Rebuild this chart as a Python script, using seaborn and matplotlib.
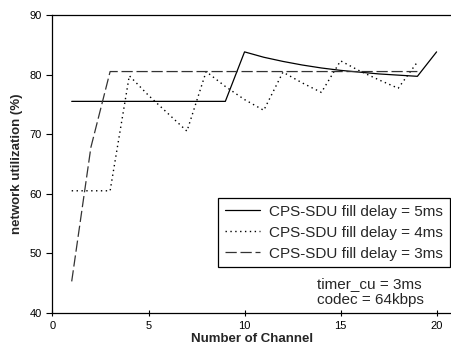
import pandas as pd
import seaborn as sns
import matplotlib.pyplot as plt

# Data
channels = list(range(1, 21))
delay_5ms = [75.5, 75.5, 75.5, 75.5, 75.5, 75.5, 75.5, 75.5, 75.5, 83.8,
             82.9, 82.2, 81.6, 81.1, 80.7, 80.4, 80.1, 79.9, 79.7, 83.8]
delay_4ms = [60.5, 60.5, 60.5, 79.8, 76.5, 73.5, 70.5, 80.5, 78.0, 75.8,
             74.0, 80.4, 78.6, 77.0, 82.3, 80.6, 79.1, 77.7, 82.1]
delay_3ms = [45.3, 67.8, 80.5, 80.5, 80.5, 80.5, 80.5, 80.5, 80.5, 80.5,
             80.5, 80.5, 80.5, 80.5, 80.5, 80.5, 80.5, 80.5, 80.5]
labels = ['CPS-SDU fill delay = 5ms', 'CPS-SDU fill delay = 4ms', 'CPS-SDU fill delay = 3ms']

sns.set_style('ticks')
plt.rcParams['font.family'] = ['Liberation Sans', 'DejaVu Sans']

fig = plt.figure(figsize=(4.51, 3.47), dpi=100)
ax = fig.add_axes([0.1164, 0.098, 0.8836, 0.859])

sns.lineplot(x=channels, y=delay_5ms, ax=ax, color='black', linewidth=0.9,
             linestyle='-', label=labels[0])
sns.lineplot(x=channels[:len(delay_4ms)], y=delay_4ms, ax=ax, color='black',
             linewidth=1.0, linestyle=(0, (1, 2.5)), label=labels[1])
sns.lineplot(x=channels[:len(delay_3ms)], y=delay_3ms, ax=ax, color='#333333',
             linewidth=0.9, linestyle=(0, (9, 3)), label=labels[2])

ax.set_xlim(0, 20.75)
ax.set_ylim(40, 90)
ax.set_xticks([0, 5, 10, 15, 20])
ax.set_yticks([40, 50, 60, 70, 80, 90])
ax.tick_params(labelsize=8, length=4, width=0.8, colors='black')
ax.tick_params(axis='x', direction='inout', length=5)
ax.spines['right'].set_visible(False)
for s in ['left', 'bottom', 'top']:
    ax.spines[s].set_linewidth(0.9)
    ax.spines[s].set_color('black')

ax.set_xlabel('Number of Channel', fontsize=9.5, fontweight='bold', labelpad=1)
ax.set_ylabel('network utilization (%)', fontsize=9.5, fontweight='bold', labelpad=5)

leg = ax.legend(loc='upper left', bbox_to_anchor=(0.415, 0.386), fontsize=11,
                frameon=True, fancybox=False, edgecolor='black', framealpha=1,
                handlelength=2.3, handletextpad=0.6, borderpad=0.45,
                labelspacing=0.45, borderaxespad=0)
leg.get_frame().set_linewidth(0.9)

ax.text(0.664, 0.084, 'timer_cu = 3ms', transform=ax.transAxes,
        fontsize=11, ha='left', va='baseline')
ax.text(0.664, 0.030, 'codec = 64kbps', transform=ax.transAxes,
        fontsize=11, ha='left', va='baseline')

fig.savefig('out.png', dpi=100)
